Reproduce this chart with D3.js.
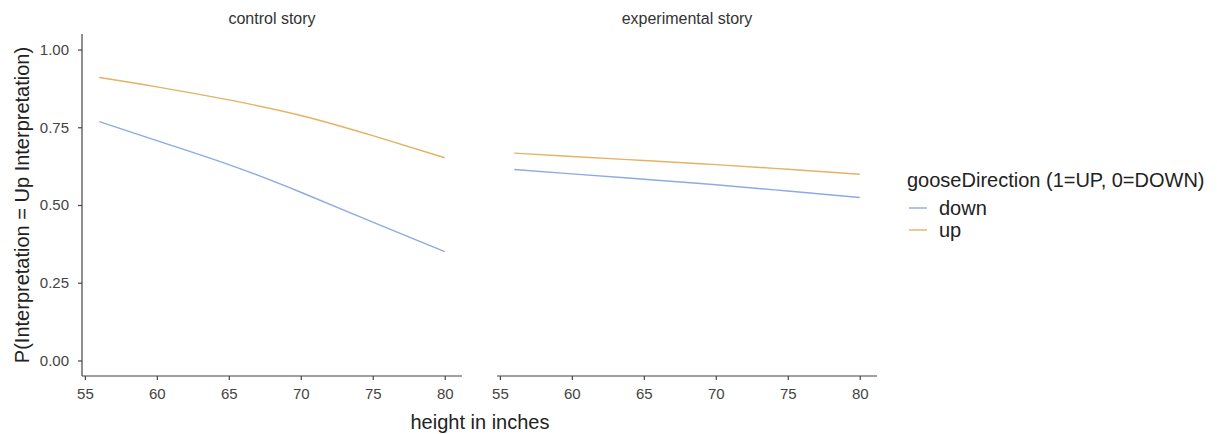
<!DOCTYPE html>
<html><head><meta charset="utf-8">
<script src="https://cdn.jsdelivr.net/npm/d3@7"></script>
<style>body{margin:0;background:#fff}svg{display:block}text{font-family:"Liberation Sans",Arial,sans-serif}</style>
</head><body>
<svg id="c" width="1217" height="434"></svg>
<script>
const panels = ["control story", "experimental story"];
const heights = [56, 60, 65, 70, 75, 80];
const controlDown = [0.768, 0.707, 0.630, 0.541, 0.445, 0.350];
const controlUp = [0.910, 0.880, 0.838, 0.788, 0.723, 0.652];
const experimentalDown = [0.614, 0.600, 0.583, 0.565, 0.545, 0.524];
const experimentalUp = [0.667, 0.656, 0.643, 0.630, 0.615, 0.599];
const xTicks = [55, 60, 65, 70, 75, 80];
const yTicks = [0, 0.25, 0.5, 0.75, 1];
const groups = ["down", "up"];
const colors = {down: "#8eaae3", up: "#e3b262"};

const series = [
  {down: controlDown, up: controlUp},
  {down: experimentalDown, up: experimentalUp}
];

const svg = d3.select("#c");
const plotTop = 34, plotBottom = 376;
const panelX = [[82, 462], [497, 877]];
const y = d3.scaleLinear().domain([-0.05, 1.05]).range([plotBottom, plotTop]);
const axisColor = "#444";

panels.forEach((name, i) => {
  const x = d3.scaleLinear().domain([54.8, 81.2]).range(panelX[i]);
  const g = svg.append("g");
  const xa = g.append("g").attr("transform", `translate(0,${plotBottom})`)
    .call(d3.axisBottom(x).tickValues(xTicks).tickSize(4).tickPadding(8).tickFormat(d3.format("d")));
  xa.select(".domain").attr("stroke", axisColor).attr("stroke-width", 1.2).attr("d", `M${panelX[i][0]},0H${panelX[i][1]}`);
  xa.selectAll(".tick line").attr("stroke", axisColor).attr("stroke-width", 1.2);
  xa.selectAll(".tick text").attr("fill", "#444").style("font-size", "15px");
  if (i === 0) {
    const ya = g.append("g").attr("transform", `translate(${panelX[i][0]},0)`)
      .call(d3.axisLeft(y).tickValues(yTicks).tickSize(4).tickPadding(9).tickFormat(d3.format(".2f")));
    ya.select(".domain").attr("stroke", axisColor).attr("stroke-width", 1.2).attr("d", `M0,${plotTop}V${plotBottom}`);
    ya.selectAll(".tick line").attr("stroke", axisColor).attr("stroke-width", 1.2);
    ya.selectAll(".tick text").attr("fill", "#444").style("font-size", "15px");
  }
  g.append("text").attr("x", (panelX[i][0] + panelX[i][1]) / 2).attr("y", 24)
    .attr("text-anchor", "middle").attr("fill", "#333").style("font-size", "16px").text(name);
  const line = d3.line().x((d, k) => x(heights[k])).y(d => y(d)).curve(d3.curveNatural);
  groups.forEach(gr => {
    g.append("path").datum(series[i][gr]).attr("d", line).attr("fill", "none")
      .attr("stroke", colors[gr]).attr("stroke-width", 1.4);
  });
});

svg.append("text").attr("x", 480).attr("y", 429).attr("text-anchor", "middle")
  .attr("fill", "#222").style("font-size", "20px").text("height in inches");
svg.append("text").attr("transform", "translate(29,205) rotate(-90)").attr("text-anchor", "middle")
  .attr("fill", "#222").style("font-size", "20px").text("P(Interpretation = Up Interpretation)");

const lg = svg.append("g");
lg.append("text").attr("x", 907).attr("y", 187).attr("fill", "#222").style("font-size", "20px")
  .text("gooseDirection (1=UP, 0=DOWN)");
groups.forEach((gr, k) => {
  const yy = 208 + k * 22;
  lg.append("line").attr("x1", 909).attr("x2", 927).attr("y1", yy).attr("y2", yy)
    .attr("stroke", colors[gr]).attr("stroke-width", 1.4);
  lg.append("text").attr("x", 939).attr("y", yy + 7).attr("fill", "#222").style("font-size", "20px").text(gr);
});
</script>
</body></html>
